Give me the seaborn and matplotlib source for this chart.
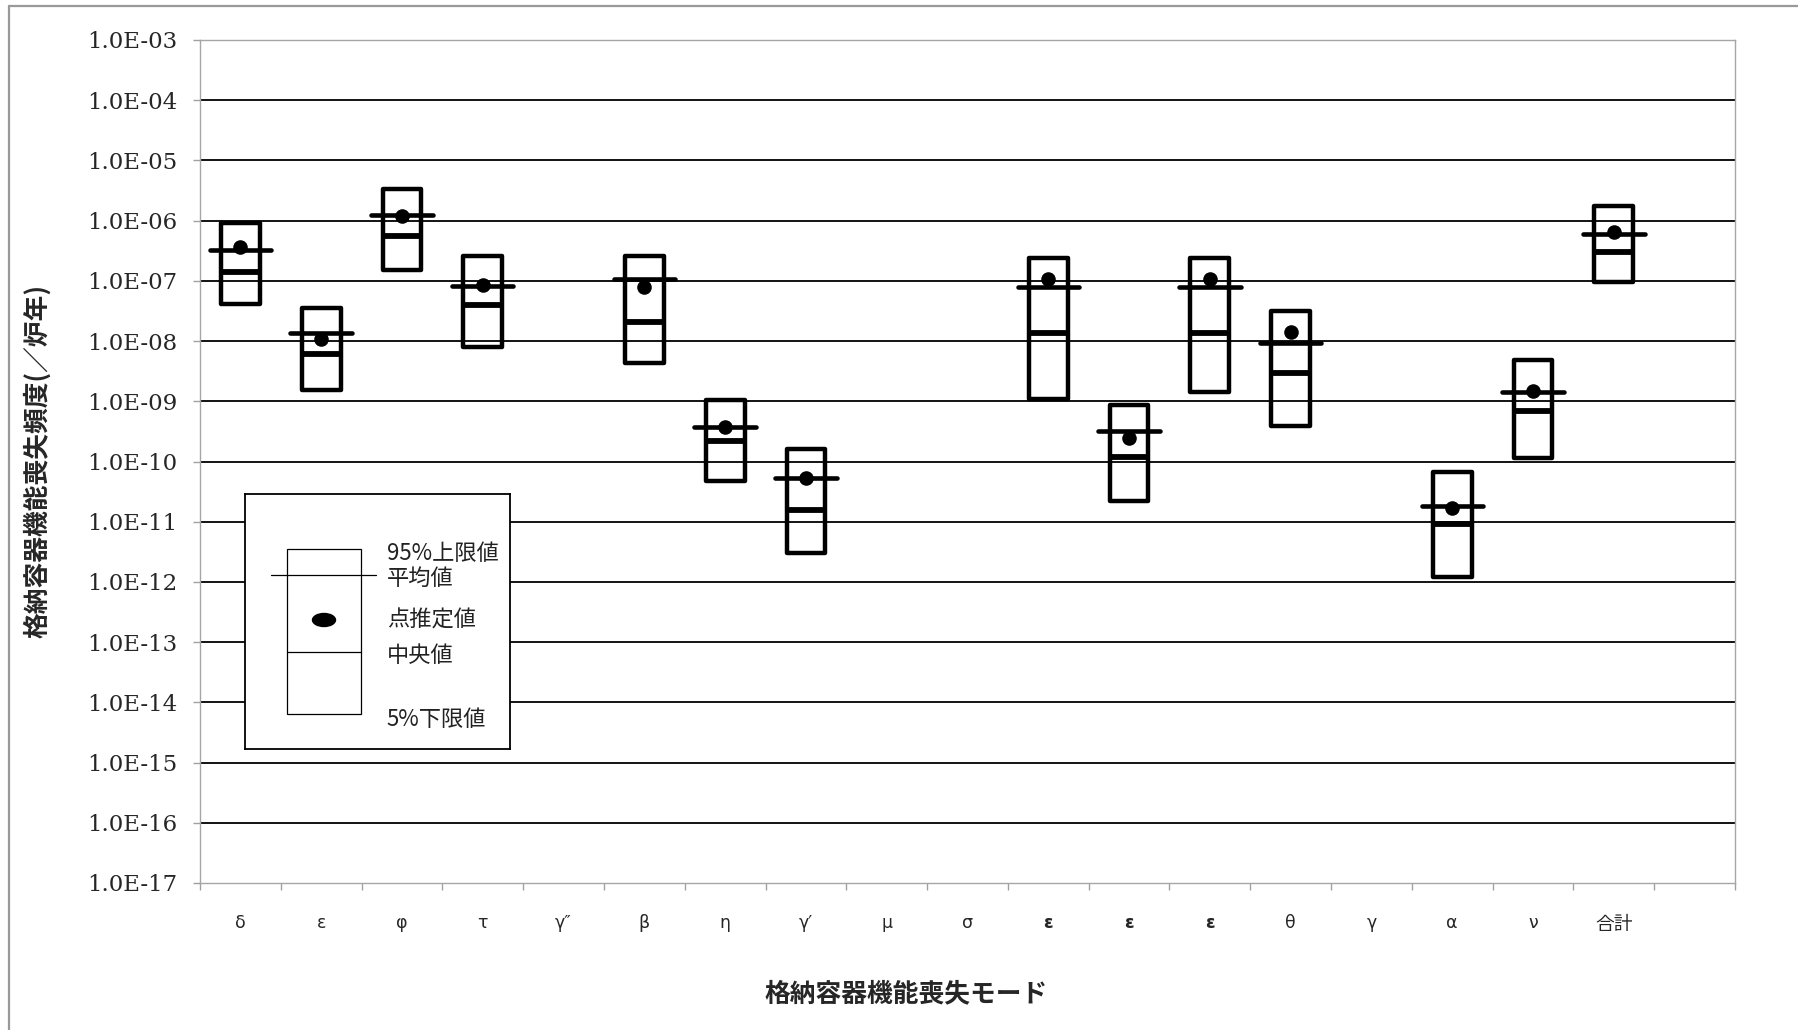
import numpy as np
import pandas as pd
import matplotlib.pyplot as plt
import seaborn as sns
from matplotlib.lines import Line2D
from matplotlib.patches import Rectangle, Ellipse
from matplotlib.ticker import NullLocator

nan = np.nan

# failure modes (last slot is an empty category)
modes = ["δ", "ε", "φ", "τ", "γ″", "β", "η", "γ′", "μ", "σ",
         "ε", "ε", "ε", "θ", "γ", "α", "ν", "合計", ""]
upper95 = [9.1e-7, 3.6e-8, 3.4e-6, 2.55e-7, nan, 2.55e-7, 1.06e-9, 1.6e-10, nan, nan,
           2.4e-7, 8.6e-10, 2.4e-7, 3.2e-8, nan, 6.6e-11, 4.8e-9, 1.73e-6, nan]
mean_val = [3.25e-7, 1.36e-8, 1.26e-6, 8.3e-8, nan, 1.07e-7, 3.7e-10, 5.3e-11, nan, nan,
            7.8e-8, 3.2e-10, 7.8e-8, 9.3e-9, nan, 1.83e-11, 1.44e-9, 6.0e-7, nan]
point_est = [3.6e-7, 1.08e-8, 1.18e-6, 8.5e-8, nan, 7.9e-8, 3.8e-10, 5.4e-11, nan, nan,
             1.07e-7, 2.5e-10, 1.07e-7, 1.39e-8, nan, 1.72e-11, 1.49e-9, 6.6e-7, nan]
median_val = [1.38e-7, 6.1e-9, 5.5e-7, 4.0e-8, nan, 2.1e-8, 2.2e-10, 1.58e-11, nan, nan,
              1.36e-8, 1.18e-10, 1.36e-8, 3.0e-9, nan, 9.2e-12, 6.9e-10, 3.0e-7, nan]
lower5 = [4.2e-8, 1.55e-9, 1.5e-7, 8.1e-9, nan, 4.4e-9, 4.8e-11, 3.0e-12, nan, nan,
          1.09e-9, 2.2e-11, 1.42e-9, 3.9e-10, nan, 1.23e-12, 1.14e-10, 9.6e-8, nan]

ytick_exps = list(range(-3, -18, -1))
ytick_labels = [f"1.0E-{-e:02d}" for e in ytick_exps]
legend_labels = ["95%上限値", "平均値", "点推定値", "中央値", "5%下限値"]
xlabel = "格納容器機能喪失モード"
ylabel = "格納容器機能喪失頻度(／炉年)"

sns.set_style("white")
plt.rcParams['font.family'] = ['DejaVu Sans', 'Noto Sans CJK JP']

df = pd.DataFrame({'mode': modes, 'pos': np.arange(len(modes)),
                   'upper95': upper95, 'mean': mean_val, 'point': point_est,
                   'median': median_val, 'lower5': lower5})
data = df.dropna(subset=['point'])

W, H = 1798, 1030
fig = plt.figure(figsize=(W / 100, H / 100), dpi=100)
ax = fig.add_axes([200 / W, 1 - 883 / H, 1535 / W, 843 / H])
ax.set_yscale('log')

# horizontal grid lines (inner decades only)
yticks = [10.0 ** e for e in ytick_exps]
for y in yticks[1:-1]:
    ax.axhline(y, color='black', lw=1.3, zorder=1)

hw = 0.24
bars = ax.bar(data['pos'], data['upper95'] - data['lower5'], bottom=data['lower5'],
              width=2 * hw, fill=False, edgecolor='black', linewidth=3.2, zorder=3)
for b in bars:
    b.set_joinstyle('round')

# median
ax.hlines(data['median'], data['pos'] - hw, data['pos'] + hw, color='black', lw=4.2, zorder=3)
# mean
mlines = ax.hlines(data['mean'], data['pos'] - 0.38, data['pos'] + 0.38,
                   color='black', lw=3.3, zorder=4)
mlines.set_capstyle('round')
# point estimate
sns.scatterplot(data=data, x='pos', y='point', color='black', s=110, linewidth=0,
                zorder=5, ax=ax, legend=False)

ax.set_ylim(1e-17, 1e-3)
ax.set_xlim(-0.5, len(modes) - 0.5)
ax.set_yticks(yticks)
ax.set_yticklabels(ytick_labels, fontfamily='DejaVu Serif', fontsize=16.5)
ax.yaxis.set_minor_locator(NullLocator())
ax.tick_params(axis='y', which='major', direction='out', length=5, width=1,
               color='#a0a0a0', pad=11, left=True)

ax.set_xticks(np.arange(-0.5, len(modes)), labels=[])
ax.set_xticks(np.arange(len(modes)), labels=modes, minor=True)
ax.tick_params(axis='x', which='major', direction='out', length=5, width=1,
               color='#a0a0a0', bottom=True)
ax.tick_params(axis='x', which='minor', length=0, pad=22, labelsize=12.5)
for lab, txt in zip(ax.get_xticklabels(minor=True), modes):
    if txt == "合計":
        lab.set_family(['Noto Sans CJK JP'])
        lab.set_fontsize(13.5)
for i in (10, 11, 12):
    ax.get_xticklabels(minor=True)[i].set_fontweight('bold')

for s in ax.spines.values():
    s.set_color('#a6a6a6')
    s.set_linewidth(1.0)
    s.set_visible(True)

ax.set_xlabel(xlabel, fontsize=18.5, fontweight='bold', family=['Noto Sans CJK JP'])
ax.xaxis.set_label_coords(0.46, -0.115)
ax.set_ylabel(ylabel, fontsize=18.5, fontweight='bold', family=['Noto Sans CJK JP'])
ax.yaxis.set_label_coords(-0.097, 0.5)

# outer frame
fig.add_artist(Line2D([9 / W, 9 / W], [0, 1 - 6 / H], color='#999999', lw=1.6))
fig.add_artist(Line2D([9 / W, 1], [1 - 6 / H, 1 - 6 / H], color='#999999', lw=1.6))

# explanatory legend box
lax = fig.add_axes([245 / W, 1 - 749 / H, 265 / W, 255 / H], zorder=10)
lax.set_xlim(0, 265)
lax.set_ylim(255, 0)
lax.set_xticks([])
lax.set_yticks([])
lax.set_facecolor('white')
for s in lax.spines.values():
    s.set_color('black')
    s.set_linewidth(1.3)
lax.add_patch(Rectangle((41.7, 55), 74.3, 165, fill=False, lw=0.9, edgecolor='black'))
lax.plot([25.7, 130.7], [81, 81], color='black', lw=0.9)
lax.add_patch(Ellipse((79, 126), 23, 13, color='black'))
lax.plot([41.7, 116], [158, 158], color='black', lw=0.9)
for txt, y in zip(legend_labels, [59, 84, 126, 161, 225]):
    lax.text(141.7, y, txt, fontsize=16, va='center', ha='left', color='#222222',
             family=['Noto Sans CJK JP'])

fig.savefig('out.png', dpi=100)
